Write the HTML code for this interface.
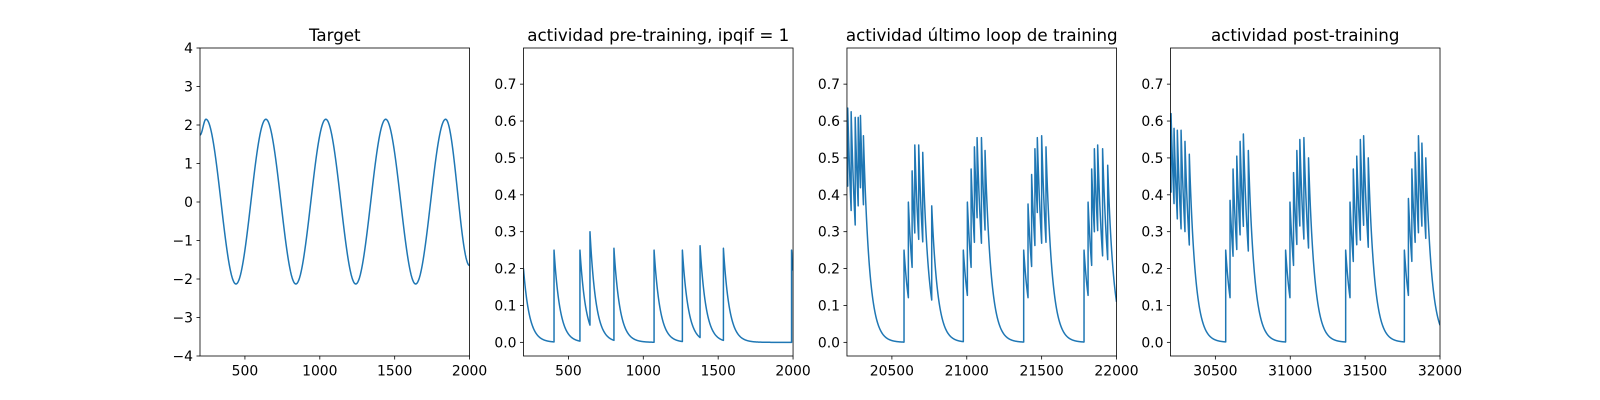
<!DOCTYPE html>
<html><head><meta charset="utf-8"><style>
html,body{margin:0;padding:0;background:#fff;}
svg{display:block;font-family:"DejaVu Sans","Liberation Sans",sans-serif;}
</style></head><body>
<svg id="fig" width="1600" height="400" viewBox="0 0 1600 400" xmlns="http://www.w3.org/2000/svg"></svg>
<script>
// ---- data ----
// Target panel: extrema of the oscillation
const targetT = [200, 240, 440, 640, 840, 1040, 1240, 1440, 1640, 1840, 2000];
const targetV = [1.74, 2.15, -2.13, 2.15, -2.13, 2.15, -2.13, 2.15, -2.13, 2.15, -1.65];
// Pre-training panel: spike times and peak values
const preT = [404, 577, 644, 804, 1072, 1261, 1379, 1535, 1990];
const preV = [0.25, 0.25, 0.30, 0.255, 0.25, 0.25, 0.262, 0.255, 0.25];
const preStart = 0.20;
// Last training loop panel
const lastT = [20205,20228,20255,20275,20290,20310, 20581,20610,20635,20653,20679,20706,20766,
  20977,21004,21029,21051,21069,21098,21122, 21380,21409,21433,21455,21471,21500,21529,
  21783,21810,21834,21852,21874,21907,21941];
const lastV = [0.635,0.625,0.61,0.61,0.615,0.56, 0.25,0.38,0.465,0.535,0.535,0.515,0.37,
  0.25,0.38,0.47,0.53,0.555,0.555,0.52, 0.25,0.375,0.455,0.525,0.555,0.56,0.53,
  0.25,0.38,0.47,0.525,0.535,0.525,0.48];
const lastStart = 0.48;
// Post-training panel
const postT = [30204,30224,30246,30271,30297,30326, 30569,30598,30618,30643,30665,30687,30720,
  30969,30998,31022,31044,31064,31091,31122, 31370,31399,31421,31444,31468,31490,31521,
  31762,31789,31812,31834,31856,31879,31905];
const postV = [0.62,0.58,0.575,0.575,0.545,0.51, 0.25,0.385,0.47,0.505,0.545,0.565,0.52,
  0.25,0.38,0.46,0.52,0.55,0.555,0.5, 0.25,0.38,0.47,0.505,0.55,0.56,0.5,
  0.25,0.39,0.47,0.515,0.56,0.54,0.5];
const postStart = 0.45;
const actTicks = ["0.0","0.1","0.2","0.3","0.4","0.5","0.6","0.7"];
const targetTicks = ["−4","−3","−2","−1","0","1","2","3","4"];

const NS = "http://www.w3.org/2000/svg";
const svg = document.getElementById('fig');
function mk(tag, attrs, parent){ const e=document.createElementNS(NS,tag); for(const k in attrs) e.setAttribute(k,attrs[k]); (parent||svg).appendChild(e); return e; }

const W = 269.57, GAP = 53.91, TOP = 48, BOT = 356;
function panel(i, title, xmin, xmax, ymin, ymax, xticks, yvals, ylabels, pts, name){
  const x0 = 200 + i*(W+GAP), x1 = x0 + W;
  const sx = v => x0 + (v - xmin)/(xmax - xmin)*W;
  const sy = v => BOT - (v - ymin)/(ymax - ymin)*(BOT - TOP);
  const g = mk('g', {});
  
  
  const cp = mk('clipPath', {id:'cp'+i}, g);
  mk('rect', {x:x0, y:TOP, width:W, height:BOT-TOP}, cp);
  const d = pts.map((p,k)=>(k?'L':'M')+sx(p[0]).toFixed(2)+','+sy(p[1]).toFixed(2)).join('');
  const line = mk('path', {d:d, fill:'none', stroke:'#1f77b4', 'stroke-width':1.5, 'stroke-linejoin':'round', 'clip-path':'url(#cp'+i+')'}, g);
  
  
  const frame = mk('rect', {x:x0, y:TOP, width:W, height:BOT-TOP, fill:'none', stroke:'#000', 'stroke-width':0.8}, g);
  
  
  xticks.forEach(t=>{
    const x = sx(t);
    mk('line', {x1:x, x2:x, y1:BOT, y2:BOT+3.5, stroke:'#000', 'stroke-width':0.8}, g);
    const tx = mk('text', {x:x, y:BOT+19.5, 'font-size':13.9, 'text-anchor':'middle', fill:'#000'}, g);
    tx.textContent = t;
    
    
  });
  yvals.forEach((v,k)=>{
    const y = sy(v);
    mk('line', {x1:x0-3.5, x2:x0, y1:y, y2:y, stroke:'#000', 'stroke-width':0.8}, g);
    const tx = mk('text', {x:x0-7, y:y+5, 'font-size':13.9, 'text-anchor':'end', fill:'#000'}, g);
    tx.textContent = ylabels[k];
    
    
  });
  const tt = mk('text', {x:(x0+x1)/2, y:TOP-7, 'font-size':16.7, 'text-anchor':'middle', fill:'#000'}, g);
  tt.textContent = title;
  
  
}

// Target: cosine interpolation between extrema
function targetPts(){
  const pts=[];
  for(let k=0;k<targetT.length-1;k++){
    const a=targetT[k], b=targetT[k+1], va=targetV[k], vb=targetV[k+1];
    for(let s=0;s<=40;s++){ const f=s/40; const w=(1-Math.cos(Math.PI*f))/2; pts.push([a+(b-a)*f, va+(vb-va)*w]); }
  }
  return pts;
}
// Activity: exponential decay between spikes, jump to peak at spike
function actPts(times, peaks, start, xmin, xmax, tau){
  const pts=[]; let v=start, t=xmin, k=0; pts.push([t,v]);
  while(t<xmax){
    t+=1; v*=Math.exp(-1/tau);
    if(k<times.length && t>=times[k]){ pts.push([t,v]); v=peaks[k]; k++; }
    pts.push([t,v]);
  }
  return pts;
}
const aTickVals = actTicks.map(Number);
const tTickVals = [-4,-3,-2,-1,0,1,2,3,4];
panel(0,'Target',200,2000,-4,4,[500,1000,1500,2000],tTickVals,targetTicks,targetPts(),'target');
panel(1,'actividad pre-training, ipqif = 1',200,2000,-0.037,0.798,[500,1000,1500,2000],aTickVals,actTicks,actPts(preT,preV,preStart,200,2000,40),'pre-training');
panel(2,'actividad último loop de training',20200,22000,-0.037,0.798,[20500,21000,21500,22000],aTickVals,actTicks,actPts(lastT,lastV,lastStart,20200,22000,40),'last-training');
panel(3,'actividad post-training',30200,32000,-0.037,0.798,[30500,31000,31500,32000],aTickVals,actTicks,actPts(postT,postV,postStart,30200,32000,40),'post-training');
</script>
</body></html>
